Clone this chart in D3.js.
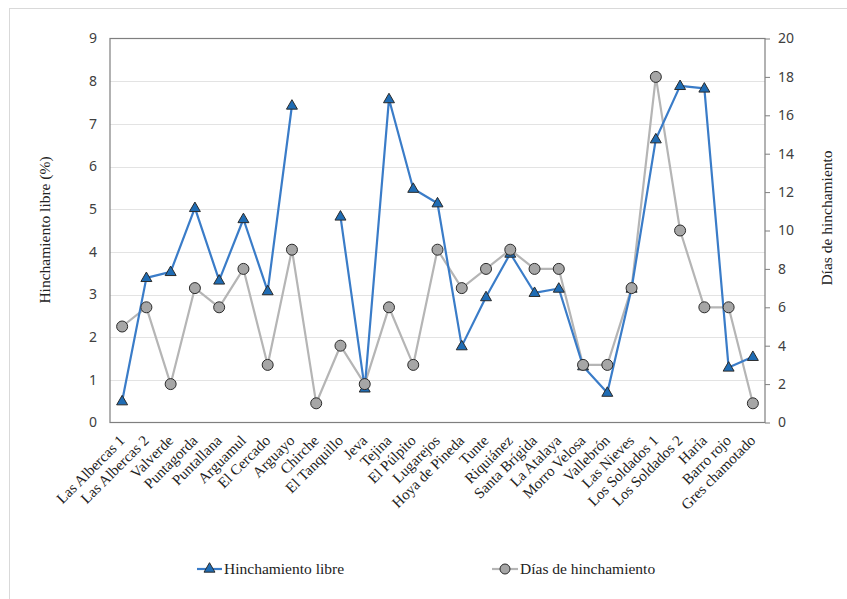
<!DOCTYPE html>
<html><head><meta charset="utf-8">
<script src="https://cdn.jsdelivr.net/npm/d3@7"></script>
<style>body{margin:0;background:#fff;}svg{display:block;}</style>
</head><body>
<svg id="c" width="847" height="599"></svg>
<script>
const categories = ["Las Albercas 1","Las Albercas 2","Valverde","Puntagorda","Puntallana","Arguamul","El Cercado","Arguayo","Chirche","El Tanquillo","Jeva","Tejina","El Púlpito","Lugarejos","Hoya de Pineda","Tunte","Riquiánez","Santa Brígida","La Atalaya","Morro Velosa","Vallebrón","Las Nieves","Los Soldados 1","Los Soldados 2","Haría","Barro rojo","Gres chamotado"];
const hinchamiento = [0.5,3.39,3.53,5.03,3.33,4.77,3.08,7.43,null,4.83,0.8,7.58,5.48,5.14,1.79,2.94,3.96,3.04,3.14,1.32,0.70,3.14,6.64,7.89,7.83,1.29,1.54];
const dias = [5,6,2,7,6,8,3,9,1,4,2,6,3,9,7,8,9,8,8,3,3,7,18,10,6,6,1];
const leftTicks = [0,1,2,3,4,5,6,7,8,9];
const rightTicks = [0,2,4,6,8,10,12,14,16,18,20];
const seriesNames = ["Hinchamiento libre","Días de hinchamiento"];

const svg = d3.select("#c");
const L=110, R=765, T=38.5, B=422.5;
const blueLine="#3a7cc8", blueFill="#1f6cb4", grayLine="#b5b5b5", grayFill="#a6a6a6", markStroke="#2b2b2b";
const tickFont="'Noto Sans', 'Liberation Sans', sans-serif";
const serif="'Liberation Serif','Times New Roman',serif";

// outer border
svg.append("rect").attr("x",9.5).attr("y",8.5).attr("width",900).attr("height",700)
  .attr("fill","none").attr("stroke","#d9d9d9");

const step=(R-L)/categories.length;
const x = d3.scalePoint().domain(categories).range([L+step/2, R-step/2]);
const yL = d3.scaleLinear().domain([0,9]).range([B,T]);
const yR = d3.scaleLinear().domain([0,20]).range([B,T]);

// gridlines
svg.append("g").selectAll("line").data(leftTicks.filter(d=>d>0 && d<9)).join("line")
  .attr("x1",L).attr("x2",R).attr("y1",d=>Math.round(yL(d))+0.5).attr("y2",d=>Math.round(yL(d))+0.5)
  .attr("stroke","#e3e3e3").attr("stroke-width",1.2);

// plot border
svg.append("rect").attr("x",L).attr("y",T).attr("width",R-L).attr("height",B-T)
  .attr("fill","none").attr("stroke","#7f7f7f").attr("stroke-width",1.2);

// left axis
const axL = svg.append("g").attr("transform",`translate(${L},0)`)
  .call(d3.axisLeft(yL).tickValues(leftTicks).tickSize(0).tickPadding(13).tickFormat(d3.format("d")));
axL.select(".domain").remove();
axL.selectAll("text").attr("font-family",tickFont).attr("font-size",14).attr("fill","#404040");

// right axis
const axR = svg.append("g").attr("transform",`translate(${R},0)`)
  .call(d3.axisRight(yR).tickValues(rightTicks).tickSize(5).tickPadding(8).tickFormat(d3.format("d")));
axR.select(".domain").remove();
axR.selectAll("line").attr("stroke","#7f7f7f");
axR.selectAll("text").attr("font-family",tickFont).attr("font-size",14).attr("fill","#404040");

// category labels
const axB = svg.append("g").attr("transform",`translate(0,${B})`)
  .call(d3.axisBottom(x).tickSize(0).tickPadding(0));
axB.select(".domain").remove();
axB.selectAll("text").attr("font-family",serif).attr("font-size",15).attr("fill","#222")
  .attr("text-anchor","end").attr("dy",0)
  .attr("transform","translate(3,19) rotate(-45)");

// lines
const lineL = d3.line().defined(d=>d.v!=null).x(d=>x(d.c)).y(d=>yL(d.v));
const lineR = d3.line().x(d=>x(d.c)).y(d=>yR(d.v));
const hData = categories.map((c,i)=>({c,v:hinchamiento[i]}));
const dData = categories.map((c,i)=>({c,v:dias[i]}));
svg.append("path").datum(dData).attr("d",lineR).attr("fill","none").attr("stroke",grayLine).attr("stroke-width",2.2).attr("stroke-linejoin","round");
svg.append("path").datum(hData).attr("d",lineL).attr("fill","none").attr("stroke",blueLine).attr("stroke-width",2.2).attr("stroke-linejoin","round");

const tri = d3.symbol().type(d3.symbolTriangle).size(52);
svg.append("g").selectAll("path").data(hData.filter(d=>d.v!=null)).join("path")
  .attr("d",tri).attr("transform",d=>`translate(${x(d.c)},${yL(d.v)+0.5})`)
  .attr("fill",blueFill).attr("stroke",markStroke).attr("stroke-width",1);
svg.append("g").selectAll("circle").data(dData).join("circle")
  .attr("cx",d=>x(d.c)).attr("cy",d=>yR(d.v)).attr("r",5.5)
  .attr("fill",grayFill).attr("stroke",markStroke).attr("stroke-width",1);

// axis titles
svg.append("text").attr("transform","translate(50,230) rotate(-90)").attr("text-anchor","middle")
  .attr("font-family",serif).attr("font-size",15.5).attr("fill","#222").text("Hinchamiento libre (%)");
svg.append("text").attr("transform","translate(832,218) rotate(-90)").attr("text-anchor","middle")
  .attr("font-family",serif).attr("font-size",15.5).attr("fill","#222").text(seriesNames[1]);

// legend
const ly=569;
const lg1=svg.append("g");
lg1.append("line").attr("x1",197).attr("x2",222).attr("y1",ly).attr("y2",ly).attr("stroke",blueLine).attr("stroke-width",2.2);
lg1.append("path").attr("d",tri).attr("transform",`translate(209.5,${ly})`).attr("fill",blueFill).attr("stroke",markStroke);
lg1.append("text").attr("x",224).attr("y",ly+5).attr("font-family",serif).attr("font-size",15.5).attr("fill","#222").text(seriesNames[0]);
const lg2=svg.append("g");
lg2.append("line").attr("x1",492).attr("x2",518).attr("y1",ly).attr("y2",ly).attr("stroke",grayLine).attr("stroke-width",2.2);
lg2.append("circle").attr("cx",505).attr("cy",ly).attr("r",5).attr("fill",grayFill).attr("stroke",markStroke);
lg2.append("text").attr("x",520).attr("y",ly+5).attr("font-family",serif).attr("font-size",15.5).attr("fill","#222").text(seriesNames[1]);
</script>
</body></html>
